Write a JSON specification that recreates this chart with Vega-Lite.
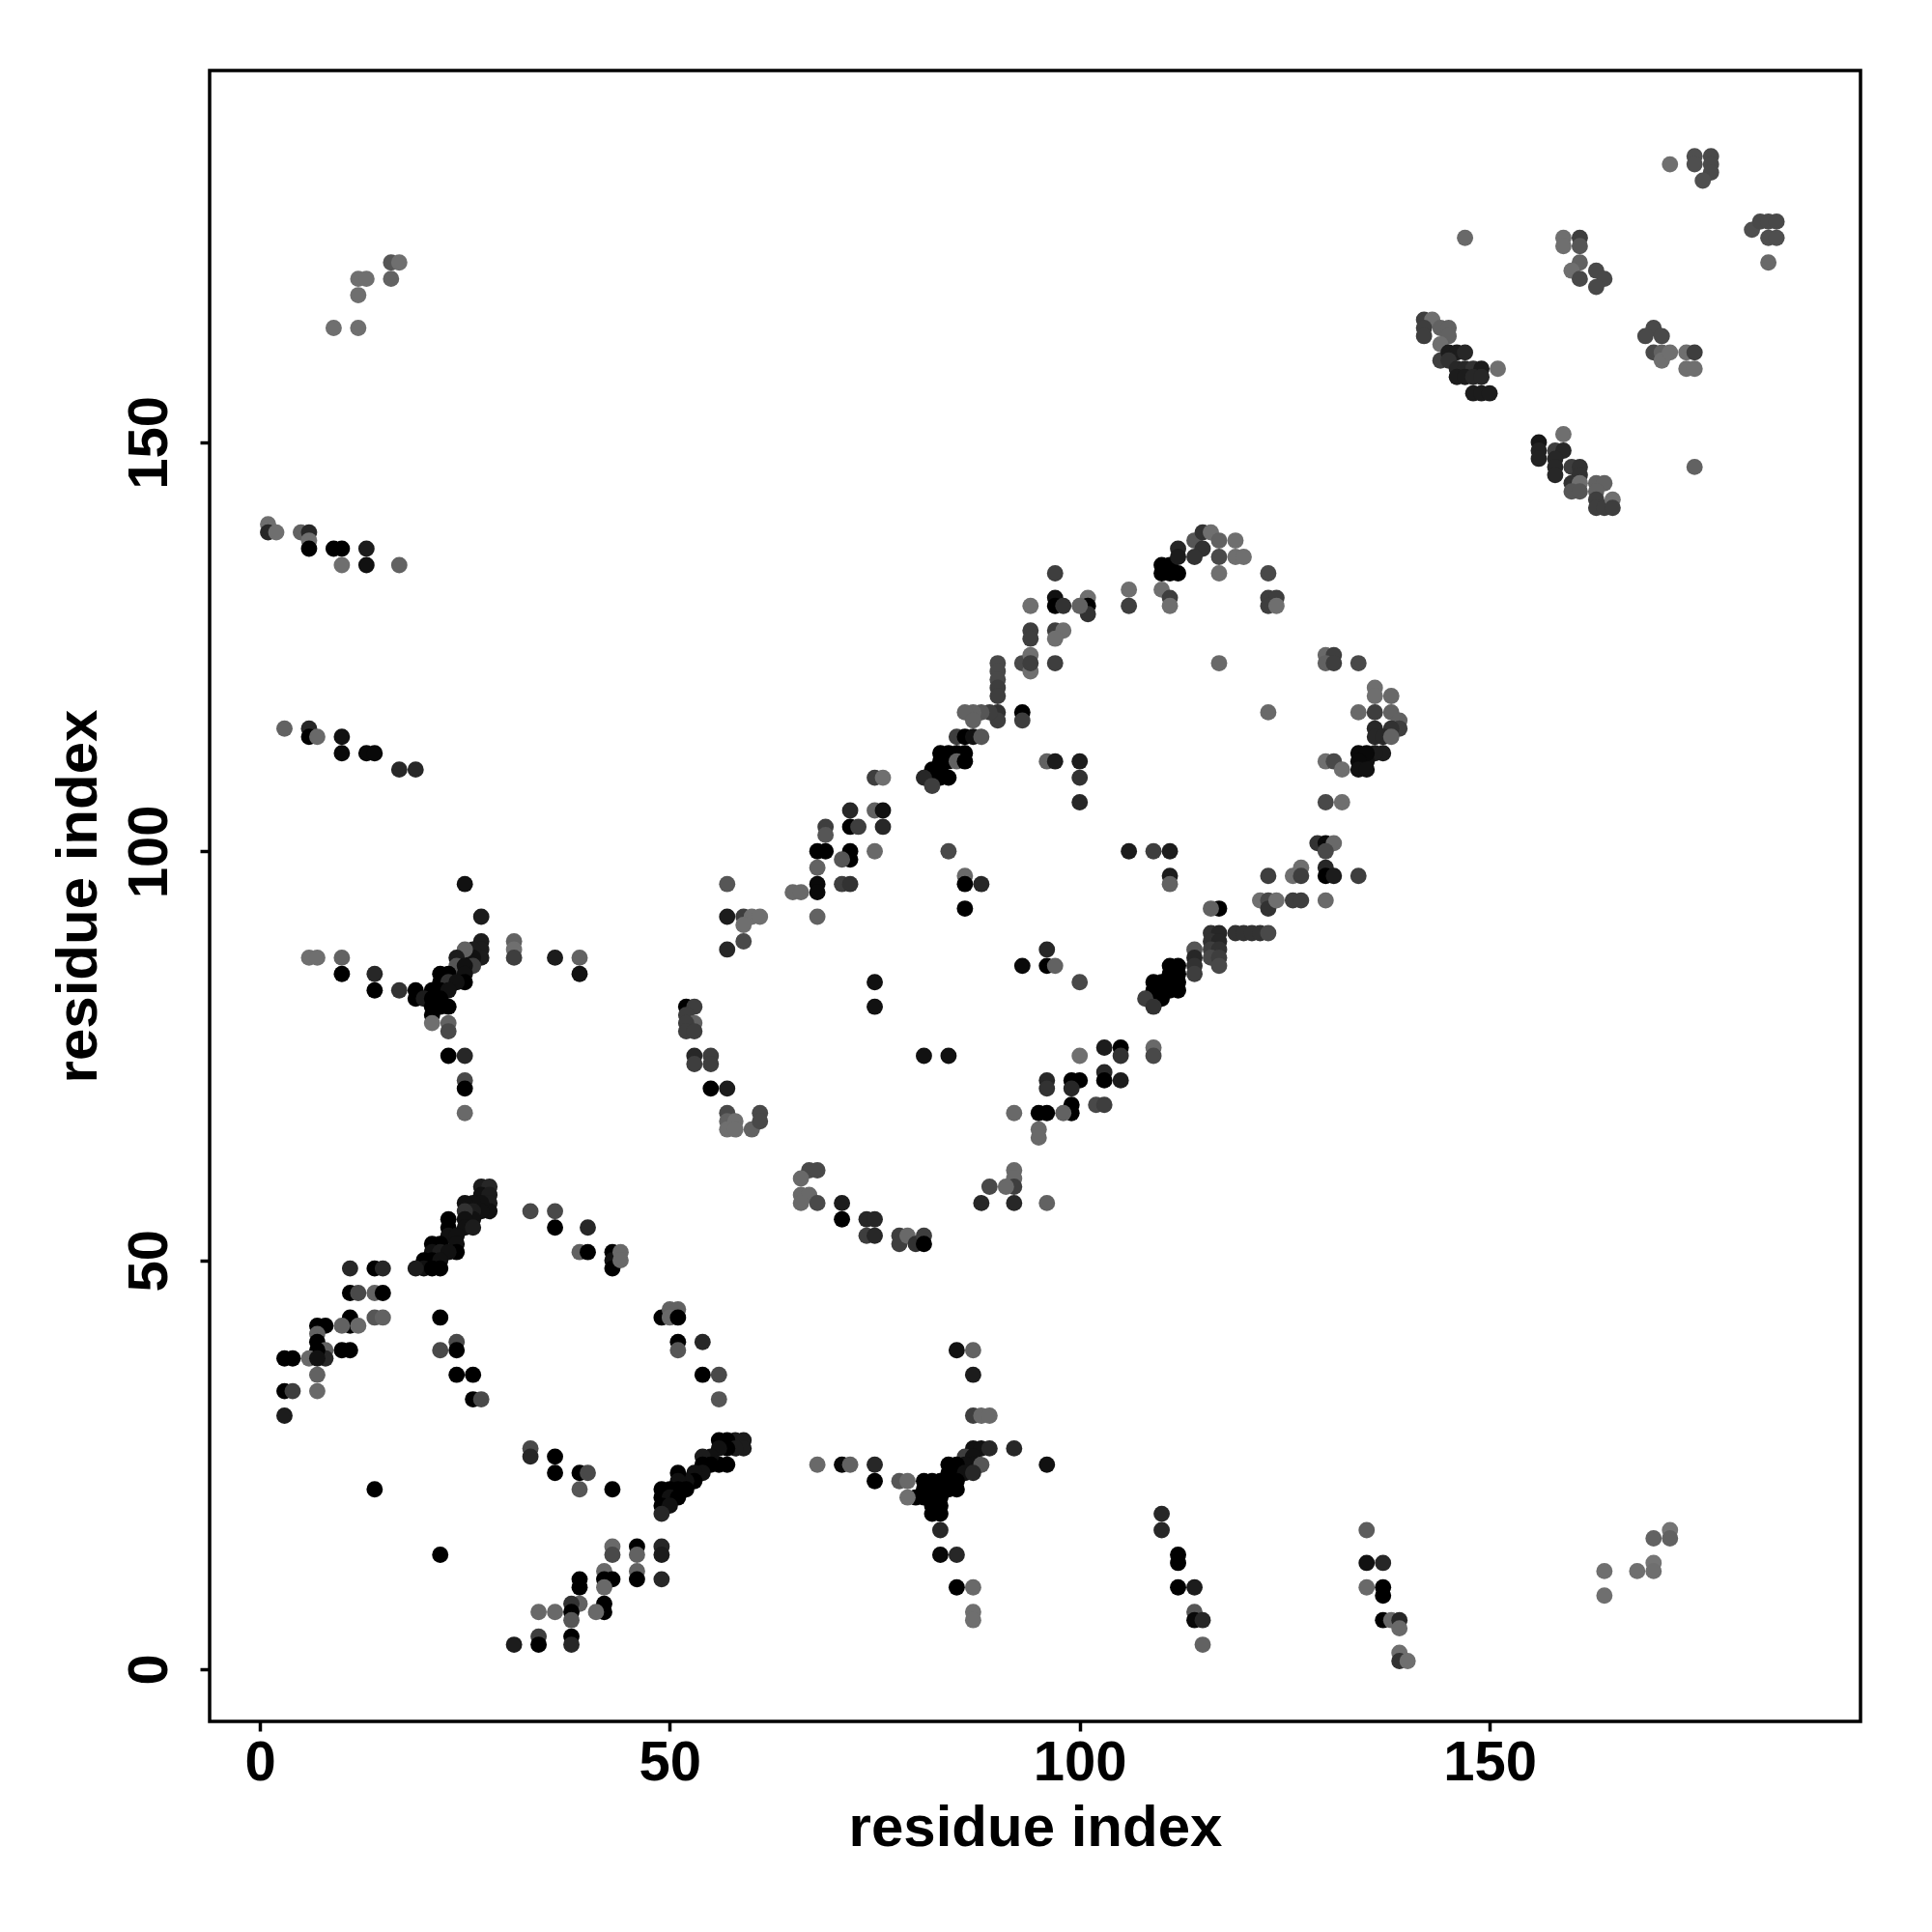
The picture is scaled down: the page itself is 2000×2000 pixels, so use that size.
{
"$schema": "https://vega.github.io/schema/vega-lite/v6.json",
"width": 1709, "height": 1709,
"autosize": {"type": "none"},
"padding": {"left": 217, "top": 73, "right": 74, "bottom": 218},
"background": "white",
"config": {"view": {"stroke": "black", "strokeWidth": 3.5}, "font": "Liberation Sans"},
"data": {"values": [
{"x":16,"y":172,"p":0.3},{"x":17,"y":172,"p":0.1},{"x":16,"y":170,"p":0.2},{"x":12,"y":170,"p":0.1},{"x":13,"y":170,"p":0.1},{"x":12,"y":168,"p":0.1},{"x":9,"y":164,"p":0.1},{"x":12,"y":164,"p":0.1},
{"x":1,"y":140,"p":0.1},{"x":1,"y":139,"p":0.7},{"x":2,"y":139,"p":0.1},{"x":5,"y":139,"p":0.2},{"x":6,"y":139,"p":0.7},{"x":6,"y":138,"p":0.1},{"x":6,"y":137,"p":1},{"x":9,"y":137,"p":1},{"x":10,"y":137,"p":1},{"x":10,"y":135,"p":0.1},{"x":13,"y":137,"p":0.8},{"x":13,"y":135,"p":0.9},{"x":17,"y":135,"p":0.2},
{"x":97,"y":134,"p":0.5},{"x":94,"y":130,"p":0.1},{"x":97,"y":131,"p":0.9},{"x":97,"y":130,"p":1},{"x":98,"y":130,"p":0.6},{"x":101,"y":131,"p":0.1},{"x":101,"y":130,"p":1},{"x":101,"y":129,"p":0.6},{"x":100,"y":130,"p":0.2},{"x":94,"y":127,"p":0.5},{"x":94,"y":126,"p":0.5},{"x":97,"y":127,"p":0.5},{"x":98,"y":127,"p":0.1},{"x":97,"y":126,"p":0.1},{"x":106,"y":132,"p":0.1},{"x":106,"y":130,"p":0.5},{"x":110,"y":132,"p":0.1},{"x":111,"y":131,"p":0.5},{"x":111,"y":130,"p":0.1},{"x":110,"y":135,"p":1},{"x":111,"y":135,"p":1},{"x":110,"y":134,"p":1},{"x":111,"y":134,"p":1},{"x":112,"y":134,"p":1},{"x":112,"y":137,"p":0.7},{"x":112,"y":136,"p":0.8},{"x":114,"y":138,"p":0.3},{"x":115,"y":139,"p":0.6},{"x":116,"y":139,"p":0.1},{"x":115,"y":137,"p":0.6},{"x":114,"y":136,"p":0.6},{"x":117,"y":138,"p":0.2},{"x":117,"y":136,"p":0.4},{"x":119,"y":138,"p":0.1},{"x":119,"y":136,"p":0.1},{"x":120,"y":136,"p":0.1},{"x":117,"y":134,"p":0.1},{"x":123,"y":134,"p":0.4},{"x":123,"y":131,"p":0.5},{"x":124,"y":131,"p":0.5},{"x":123,"y":130,"p":0.5},{"x":124,"y":130,"p":0.1},
{"x":172,"y":184,"p":0.1},{"x":175,"y":185,"p":0.35},{"x":175,"y":184,"p":0.35},{"x":177,"y":185,"p":0.4},{"x":177,"y":184,"p":0.4},{"x":177,"y":183,"p":0.4},{"x":176,"y":182,"p":0.35},{"x":182,"y":176,"p":0.35},{"x":183,"y":177,"p":0.4},{"x":184,"y":177,"p":0.4},{"x":185,"y":177,"p":0.4},{"x":184,"y":175,"p":0.35},{"x":185,"y":175,"p":0.35},{"x":184,"y":172,"p":0.15},{"x":147,"y":175,"p":0.15},{"x":159,"y":175,"p":0.1},{"x":159,"y":174,"p":0.1},{"x":161,"y":175,"p":0.5},{"x":161,"y":174,"p":0.3},{"x":161,"y":172,"p":0.2},{"x":160,"y":171,"p":0.1},{"x":161,"y":170,"p":0.4},{"x":163,"y":171,"p":0.4},{"x":164,"y":170,"p":0.4},{"x":163,"y":169,"p":0.4},{"x":170,"y":164,"p":0.4},{"x":169,"y":163,"p":0.4},{"x":171,"y":163,"p":0.4},{"x":170,"y":161,"p":0.4},{"x":171,"y":161,"p":0.2},{"x":171,"y":160,"p":0.1},{"x":172,"y":161,"p":0.1},{"x":174,"y":161,"p":0.1},{"x":175,"y":161,"p":0.5},{"x":174,"y":159,"p":0.1},{"x":175,"y":159,"p":0.1},{"x":175,"y":147,"p":0.2},
{"x":142,"y":165,"p":0.5},{"x":143,"y":165,"p":0.1},{"x":142,"y":164,"p":0.5},{"x":142,"y":163,"p":0.5},{"x":144,"y":164,"p":0.2},{"x":145,"y":164,"p":0.2},{"x":145,"y":163,"p":0.2},{"x":144,"y":162,"p":0.1},{"x":144,"y":160,"p":0.5},{"x":145,"y":161,"p":0.8},{"x":146,"y":161,"p":0.8},{"x":147,"y":161,"p":0.7},{"x":145,"y":160,"p":0.6},{"x":146,"y":159,"p":0.7},{"x":147,"y":159,"p":0.7},{"x":148,"y":159,"p":0.6},{"x":149,"y":159,"p":0.8},{"x":146,"y":158,"p":0.8},{"x":147,"y":158,"p":0.8},{"x":148,"y":158,"p":0.7},{"x":149,"y":158,"p":0.7},{"x":148,"y":156,"p":0.8},{"x":149,"y":156,"p":0.8},{"x":150,"y":156,"p":0.8},{"x":151,"y":159,"p":0.1},
{"x":159,"y":151,"p":0.1},{"x":156,"y":150,"p":0.85},{"x":156,"y":149,"p":0.75},{"x":156,"y":148,"p":0.75},{"x":158,"y":149,"p":0.5},{"x":159,"y":149,"p":0.7},{"x":158,"y":148,"p":0.7},{"x":158,"y":147,"p":0.7},{"x":158,"y":146,"p":0.7},{"x":160,"y":147,"p":0.5},{"x":161,"y":147,"p":0.6},{"x":161,"y":146,"p":0.6},{"x":160,"y":145,"p":0.6},{"x":161,"y":145,"p":0.1},{"x":160,"y":144,"p":0.3},{"x":161,"y":144,"p":0.3},{"x":163,"y":145,"p":0.2},{"x":164,"y":145,"p":0.2},{"x":163,"y":144,"p":0.2},{"x":163,"y":143,"p":0.5},{"x":163,"y":142,"p":0.5},{"x":164,"y":142,"p":0.5},{"x":165,"y":143,"p":0.1},{"x":165,"y":142,"p":0.5},
{"x":3,"y":115,"p":0.2},{"x":6,"y":115,"p":0.7},{"x":6,"y":114,"p":1},{"x":7,"y":114,"p":0.15},{"x":10,"y":114,"p":0.9},{"x":10,"y":112,"p":0.95},{"x":13,"y":112,"p":0.95},{"x":14,"y":112,"p":0.95},{"x":17,"y":110,"p":0.7},{"x":19,"y":110,"p":0.7},
{"x":25,"y":96,"p":0.9},{"x":27,"y":92,"p":0.8},{"x":27,"y":89,"p":0.8},{"x":27,"y":88,"p":0.8},{"x":27,"y":87,"p":0.8},{"x":26,"y":88,"p":0.8},{"x":26,"y":87,"p":0.9},{"x":25,"y":88,"p":0.2},{"x":26,"y":86,"p":0.5},{"x":24,"y":87,"p":0.8},{"x":24,"y":86,"p":0.3},{"x":25,"y":86,"p":0.9},{"x":25,"y":85,"p":0.9},{"x":25,"y":84,"p":1},{"x":22,"y":85,"p":1},{"x":23,"y":85,"p":1},{"x":22,"y":84,"p":1},{"x":23,"y":84,"p":0.6},{"x":24,"y":84,"p":0.9},{"x":21,"y":83,"p":1},{"x":22,"y":83,"p":1},{"x":23,"y":83,"p":0.9},{"x":19,"y":83,"p":1},{"x":19,"y":82,"p":1},{"x":20,"y":82,"p":0.8},{"x":21,"y":82,"p":1},{"x":22,"y":82,"p":1},{"x":23,"y":81,"p":1},{"x":21,"y":81,"p":1},{"x":22,"y":81,"p":1},{"x":21,"y":80,"p":1},{"x":21,"y":79,"p":0.1},{"x":23,"y":79,"p":0.2},{"x":23,"y":78,"p":0.4},{"x":23,"y":75,"p":1},{"x":25,"y":75,"p":0.7},{"x":25,"y":72,"p":0.4},{"x":25,"y":71,"p":1},{"x":25,"y":68,"p":0.15},{"x":17,"y":83,"p":0.6},{"x":14,"y":85,"p":0.7},{"x":14,"y":83,"p":1},{"x":10,"y":85,"p":1},{"x":10,"y":87,"p":0.2},{"x":6,"y":87,"p":0.1},{"x":7,"y":87,"p":0.1},{"x":31,"y":89,"p":0.2},{"x":31,"y":88,"p":0.1},{"x":31,"y":87,"p":0.5},{"x":36,"y":87,"p":0.8},{"x":39,"y":87,"p":0.2},{"x":39,"y":85,"p":0.9},
{"x":57,"y":96,"p":0.3},{"x":57,"y":92,"p":0.8},{"x":59,"y":92,"p":0.5},{"x":60,"y":92,"p":0.1},{"x":61,"y":92,"p":0.1},{"x":59,"y":91,"p":0.1},{"x":59,"y":89,"p":0.4},{"x":57,"y":88,"p":0.7},{"x":52,"y":81,"p":1},{"x":53,"y":81,"p":0.5},{"x":52,"y":80,"p":0.5},{"x":53,"y":79,"p":0.2},{"x":52,"y":79,"p":0.5},{"x":52,"y":78,"p":0.5},{"x":53,"y":78,"p":0.5},{"x":53,"y":75,"p":0.7},{"x":53,"y":74,"p":0.5},{"x":55,"y":75,"p":0.5},{"x":55,"y":74,"p":0.5},{"x":55,"y":71,"p":1},{"x":57,"y":71,"p":0.8},{"x":57,"y":68,"p":0.4},{"x":57,"y":67,"p":0.2},{"x":57,"y":66,"p":0.1},{"x":58,"y":67,"p":0.1},{"x":58,"y":66,"p":0.1},{"x":60,"y":66,"p":0.2},{"x":61,"y":68,"p":0.4},{"x":61,"y":67,"p":0.4},
{"x":90,"y":123,"p":0.4},{"x":90,"y":122,"p":0.4},{"x":90,"y":121,"p":0.4},{"x":90,"y":120,"p":0.5},{"x":90,"y":119,"p":0.5},{"x":90,"y":117,"p":0.6},{"x":90,"y":116,"p":0.5},{"x":89,"y":117,"p":0.5},{"x":88,"y":117,"p":0.3},{"x":87,"y":117,"p":0.2},{"x":86,"y":117,"p":0.2},{"x":87,"y":116,"p":0.2},{"x":93,"y":117,"p":1},{"x":93,"y":116,"p":0.5},{"x":93,"y":123,"p":0.4},{"x":94,"y":124,"p":0.1},{"x":94,"y":122,"p":0.1},{"x":94,"y":123,"p":0.5},{"x":97,"y":123,"p":0.5},{"x":85,"y":114,"p":0.5},{"x":86,"y":114,"p":1},{"x":87,"y":114,"p":0.9},{"x":88,"y":114,"p":0.3},{"x":83,"y":112,"p":1},{"x":84,"y":112,"p":1},{"x":85,"y":112,"p":1},{"x":86,"y":112,"p":1},{"x":83,"y":111,"p":1},{"x":84,"y":111,"p":1},{"x":85,"y":111,"p":0.2},{"x":86,"y":111,"p":1},{"x":82,"y":110,"p":1},{"x":83,"y":110,"p":1},{"x":82,"y":109,"p":1},{"x":83,"y":109,"p":1},{"x":84,"y":109,"p":1},{"x":81,"y":109,"p":0.7},{"x":82,"y":108,"p":0.5},{"x":75,"y":109,"p":0.5},{"x":76,"y":109,"p":0.1},{"x":72,"y":105,"p":0.7},{"x":72,"y":103,"p":1},{"x":73,"y":103,"p":0.5},{"x":75,"y":105,"p":0.2},{"x":76,"y":105,"p":0.9},{"x":76,"y":103,"p":0.7},{"x":69,"y":103,"p":0.5},{"x":69,"y":102,"p":0.3},{"x":68,"y":100,"p":1},{"x":69,"y":100,"p":1},{"x":72,"y":100,"p":1},{"x":72,"y":99,"p":1},{"x":71,"y":99,"p":0.3},{"x":75,"y":100,"p":0.15},{"x":68,"y":98,"p":0.2},{"x":68,"y":96,"p":0.95},{"x":68,"y":95,"p":0.95},{"x":71,"y":96,"p":0.5},{"x":72,"y":96,"p":0.6},{"x":65,"y":95,"p":0.15},{"x":66,"y":95,"p":0.15},{"x":68,"y":92,"p":0.2},{"x":84,"y":100,"p":0.4},{"x":86,"y":97,"p":0.15},{"x":86,"y":96,"p":1},{"x":88,"y":96,"p":0.7},{"x":86,"y":93,"p":1},{"x":96,"y":111,"p":0.2},{"x":97,"y":111,"p":0.8},{"x":100,"y":111,"p":0.8},{"x":100,"y":109,"p":0.6},{"x":100,"y":106,"p":0.7},{"x":117,"y":123,"p":0.15},{"x":123,"y":117,"p":0.15},{"x":106,"y":100,"p":0.8},{"x":109,"y":100,"p":0.5},{"x":111,"y":100,"p":0.8},{"x":111,"y":97,"p":0.8},{"x":111,"y":96,"p":0.2},{"x":96,"y":88,"p":0.7},{"x":93,"y":86,"p":0.95},{"x":96,"y":86,"p":1},{"x":97,"y":86,"p":0.2},{"x":100,"y":84,"p":0.4},{"x":75,"y":84,"p":0.9},{"x":75,"y":81,"p":0.9},{"x":81,"y":75,"p":0.9},{"x":84,"y":75,"p":0.9},{"x":100,"y":75,"p":0.1},{"x":103,"y":76,"p":0.8},{"x":105,"y":76,"p":1},{"x":105,"y":75,"p":0.6},{"x":109,"y":76,"p":0.15},{"x":109,"y":75,"p":0.4},{"x":96,"y":72,"p":0.7},{"x":96,"y":71,"p":0.6},{"x":99,"y":72,"p":1},{"x":100,"y":72,"p":1},{"x":99,"y":71,"p":0.7},{"x":103,"y":73,"p":0.7},{"x":103,"y":72,"p":1},{"x":105,"y":72,"p":0.8},{"x":102,"y":69,"p":0.4},{"x":103,"y":69,"p":0.5},{"x":99,"y":69,"p":1},{"x":99,"y":68,"p":1},{"x":98,"y":68,"p":0.2},{"x":95,"y":68,"p":1},{"x":96,"y":68,"p":1},{"x":92,"y":68,"p":0.15},{"x":95,"y":66,"p":0.15},{"x":95,"y":65,"p":0.15},
{"x":117,"y":93,"p":1},{"x":116,"y":93,"p":0.2},{"x":116,"y":90,"p":0.6},{"x":117,"y":90,"p":0.7},{"x":119,"y":90,"p":0.6},{"x":120,"y":90,"p":0.6},{"x":121,"y":90,"p":0.6},{"x":122,"y":90,"p":0.6},{"x":123,"y":90,"p":0.4},{"x":116,"y":89,"p":0.6},{"x":117,"y":89,"p":0.7},{"x":116,"y":88,"p":0.5},{"x":117,"y":88,"p":0.6},{"x":116,"y":87,"p":0.4},{"x":117,"y":87,"p":0.5},{"x":117,"y":86,"p":0.4},{"x":114,"y":88,"p":0.3},{"x":114,"y":87,"p":0.7},{"x":114,"y":86,"p":0.6},{"x":114,"y":85,"p":0.5},{"x":111,"y":86,"p":1},{"x":112,"y":86,"p":1},{"x":111,"y":85,"p":1},{"x":112,"y":85,"p":1},{"x":111,"y":84,"p":1},{"x":112,"y":84,"p":1},{"x":112,"y":83,"p":1},{"x":111,"y":83,"p":1},{"x":109,"y":84,"p":1},{"x":110,"y":84,"p":1},{"x":109,"y":83,"p":1},{"x":110,"y":83,"p":1},{"x":109,"y":82,"p":1},{"x":110,"y":82,"p":1},{"x":108,"y":82,"p":0.5},{"x":109,"y":81,"p":0.6},
{"x":123,"y":97,"p":0.5},{"x":126,"y":97,"p":0.1},{"x":127,"y":98,"p":0.1},{"x":127,"y":97,"p":0.5},{"x":129,"y":101,"p":0.6},{"x":122,"y":94,"p":0.1},{"x":123,"y":94,"p":0.4},{"x":123,"y":93,"p":0.6},{"x":124,"y":94,"p":0.1},{"x":126,"y":94,"p":0.5},{"x":127,"y":94,"p":0.5},{"x":130,"y":94,"p":0.15},
{"x":67,"y":61,"p":0.4},{"x":68,"y":61,"p":0.4},{"x":66,"y":60,"p":0.15},{"x":92,"y":61,"p":0.15},{"x":92,"y":60,"p":0.15},
{"x":130,"y":124,"p":0.15},{"x":131,"y":124,"p":0.5},{"x":130,"y":123,"p":0.2},{"x":131,"y":123,"p":0.5},{"x":134,"y":123,"p":0.4},{"x":136,"y":120,"p":0.1},{"x":136,"y":119,"p":0.1},{"x":138,"y":119,"p":0.15},{"x":134,"y":117,"p":0.15},{"x":136,"y":117,"p":0.5},{"x":138,"y":117,"p":0.2},{"x":139,"y":116,"p":0.2},{"x":139,"y":115,"p":0.5},{"x":138,"y":115,"p":0.6},{"x":136,"y":115,"p":0.7},{"x":136,"y":114,"p":0.7},{"x":137,"y":114,"p":0.7},{"x":138,"y":114,"p":0.2},{"x":137,"y":112,"p":0.8},{"x":136,"y":112,"p":0.8},{"x":135,"y":111,"p":0.9},{"x":134,"y":112,"p":0.95},{"x":135,"y":112,"p":0.95},{"x":134,"y":111,"p":0.95},{"x":134,"y":110,"p":0.9},{"x":135,"y":110,"p":0.9},{"x":130,"y":111,"p":0.1},{"x":131,"y":111,"p":0.4},{"x":132,"y":110,"p":0.1},{"x":130,"y":106,"p":0.4},{"x":132,"y":106,"p":0.1},{"x":130,"y":101,"p":0.95},{"x":131,"y":101,"p":0.15},{"x":130,"y":100,"p":0.4},{"x":130,"y":98,"p":0.7},{"x":130,"y":97,"p":1},{"x":131,"y":97,"p":0.8},{"x":134,"y":97,"p":0.5},
{"x":27,"y":59,"p":0.8},{"x":28,"y":59,"p":0.7},{"x":27,"y":58,"p":0.9},{"x":28,"y":58,"p":0.8},{"x":28,"y":57,"p":0.8},{"x":28,"y":56,"p":0.9},{"x":27,"y":57,"p":0.9},{"x":27,"y":56,"p":0.9},{"x":26,"y":57,"p":0.9},{"x":25,"y":57,"p":0.9},{"x":26,"y":56,"p":0.8},{"x":26,"y":55,"p":0.9},{"x":25,"y":56,"p":0.6},{"x":25,"y":55,"p":0.9},{"x":25,"y":54,"p":0.9},{"x":26,"y":54,"p":0.8},{"x":23,"y":55,"p":1},{"x":23,"y":54,"p":1},{"x":23,"y":53,"p":0.9},{"x":24,"y":53,"p":0.9},{"x":24,"y":52,"p":0.9},{"x":24,"y":51,"p":1},{"x":21,"y":52,"p":1},{"x":22,"y":52,"p":1},{"x":21,"y":51,"p":0.9},{"x":22,"y":51,"p":0.8},{"x":23,"y":51,"p":0.9},{"x":20,"y":50,"p":1},{"x":21,"y":50,"p":1},{"x":22,"y":50,"p":0.9},{"x":20,"y":49,"p":0.9},{"x":21,"y":49,"p":1},{"x":22,"y":49,"p":1},{"x":19,"y":49,"p":0.8},
{"x":11,"y":49,"p":0.7},{"x":14,"y":49,"p":1},{"x":15,"y":49,"p":0.7},{"x":11,"y":46,"p":1},{"x":12,"y":46,"p":0.4},{"x":14,"y":46,"p":0.2},{"x":15,"y":46,"p":1},{"x":14,"y":43,"p":0.3},{"x":15,"y":43,"p":0.2},{"x":11,"y":43,"p":1},{"x":11,"y":42,"p":1},{"x":12,"y":42,"p":0.15},{"x":10,"y":42,"p":0.2},{"x":7,"y":42,"p":1},{"x":8,"y":42,"p":1},{"x":7,"y":41,"p":0.2},{"x":7,"y":40,"p":1},{"x":8,"y":39,"p":0.2},{"x":8,"y":38,"p":0.7},{"x":10,"y":39,"p":1},{"x":11,"y":39,"p":1},{"x":7,"y":39,"p":1},{"x":6,"y":38,"p":0.15},{"x":7,"y":38,"p":0.9},{"x":3,"y":38,"p":1},{"x":4,"y":38,"p":1},{"x":7,"y":36,"p":0.2},{"x":3,"y":34,"p":1},{"x":4,"y":34,"p":0.5},{"x":7,"y":34,"p":0.15},{"x":3,"y":31,"p":0.8},
{"x":22,"y":43,"p":1},{"x":22,"y":39,"p":0.4},{"x":24,"y":40,"p":0.4},{"x":24,"y":39,"p":1},{"x":24,"y":36,"p":1},{"x":26,"y":36,"p":1},{"x":26,"y":33,"p":1},{"x":27,"y":33,"p":0.4},
{"x":33,"y":56,"p":0.4},{"x":36,"y":56,"p":0.4},{"x":36,"y":54,"p":1},{"x":40,"y":54,"p":0.7},{"x":39,"y":51,"p":0.2},{"x":40,"y":51,"p":1},{"x":43,"y":51,"p":1},{"x":43,"y":50,"p":0.9},{"x":43,"y":49,"p":1},{"x":44,"y":51,"p":0.15},{"x":44,"y":50,"p":0.15},{"x":49,"y":43,"p":1},{"x":50,"y":44,"p":0.2},{"x":51,"y":44,"p":0.2},{"x":50,"y":43,"p":0.15},{"x":51,"y":43,"p":1},{"x":51,"y":40,"p":1},{"x":51,"y":39,"p":0.3},{"x":54,"y":40,"p":0.7},{"x":54,"y":36,"p":1},{"x":56,"y":36,"p":0.4},{"x":56,"y":33,"p":0.3},
{"x":33,"y":27,"p":0.4},{"x":33,"y":26,"p":0.7},{"x":36,"y":26,"p":1},{"x":36,"y":24,"p":1},{"x":39,"y":24,"p":1},{"x":40,"y":24,"p":0.4},{"x":39,"y":22,"p":0.3},{"x":43,"y":22,"p":1},{"x":14,"y":22,"p":1},{"x":22,"y":14,"p":1},
{"x":59,"y":28,"p":0.8},{"x":58,"y":28,"p":0.8},{"x":57,"y":28,"p":1},{"x":56,"y":28,"p":1},{"x":59,"y":27,"p":0.8},{"x":58,"y":27,"p":0.8},{"x":57,"y":27,"p":1},{"x":56,"y":27,"p":0.9},{"x":57,"y":25,"p":1},{"x":56,"y":25,"p":1},{"x":55,"y":26,"p":0.9},{"x":54,"y":26,"p":0.8},{"x":54,"y":25,"p":1},{"x":55,"y":25,"p":1},{"x":54,"y":24,"p":0.9},{"x":53,"y":24,"p":0.9},{"x":53,"y":23,"p":1},{"x":52,"y":23,"p":0.9},{"x":51,"y":24,"p":1},{"x":51,"y":23,"p":0.9},{"x":51,"y":22,"p":1},{"x":52,"y":22,"p":1},{"x":50,"y":22,"p":1},{"x":49,"y":22,"p":1},{"x":49,"y":21,"p":1},{"x":50,"y":21,"p":0.9},{"x":51,"y":21,"p":1},{"x":49,"y":20,"p":1},{"x":50,"y":20,"p":0.9},{"x":49,"y":19,"p":0.7},
{"x":43,"y":15,"p":0.15},{"x":43,"y":14,"p":0.4},{"x":46,"y":15,"p":1},{"x":46,"y":14,"p":0.2},{"x":49,"y":15,"p":0.7},{"x":49,"y":14,"p":0.8},{"x":46,"y":12,"p":0.2},{"x":46,"y":11,"p":1},{"x":49,"y":11,"p":0.7},{"x":39,"y":11,"p":1},{"x":39,"y":10,"p":1},{"x":42,"y":12,"p":0.15},{"x":42,"y":11,"p":1},{"x":43,"y":11,"p":1},{"x":42,"y":10,"p":0.15},{"x":42,"y":8,"p":1},{"x":42,"y":7,"p":1},{"x":41,"y":7,"p":0.15},{"x":39,"y":8,"p":0.2},{"x":38,"y":8,"p":0.6},{"x":38,"y":7,"p":1},{"x":38,"y":6,"p":0.3},{"x":36,"y":7,"p":0.15},{"x":34,"y":7,"p":0.15},{"x":34,"y":4,"p":0.5},{"x":34,"y":3,"p":1},{"x":31,"y":3,"p":0.8},{"x":38,"y":4,"p":1},{"x":38,"y":3,"p":0.7},
{"x":66,"y":58,"p":0.15},{"x":67,"y":58,"p":0.15},{"x":66,"y":57,"p":0.15},{"x":68,"y":57,"p":0.4},{"x":71,"y":57,"p":0.8},{"x":71,"y":55,"p":1},{"x":74,"y":55,"p":0.7},{"x":75,"y":55,"p":0.7},{"x":74,"y":53,"p":0.5},{"x":75,"y":53,"p":0.7},{"x":78,"y":53,"p":0.5},{"x":78,"y":52,"p":0.5},{"x":79,"y":53,"p":0.15},{"x":80,"y":52,"p":0.6},{"x":81,"y":53,"p":0.5},{"x":81,"y":52,"p":1},{"x":92,"y":59,"p":0.5},{"x":91,"y":59,"p":0.15},{"x":89,"y":59,"p":0.4},{"x":88,"y":57,"p":0.7},{"x":92,"y":57,"p":0.7},{"x":96,"y":57,"p":0.2},
{"x":85,"y":39,"p":0.9},{"x":87,"y":39,"p":0.2},{"x":87,"y":36,"p":0.8},{"x":87,"y":31,"p":0.5},{"x":88,"y":31,"p":0.15},{"x":89,"y":31,"p":0.15},{"x":87,"y":27,"p":0.9},{"x":88,"y":27,"p":0.9},{"x":89,"y":27,"p":0.7},{"x":92,"y":27,"p":0.7},{"x":96,"y":25,"p":0.9},{"x":86,"y":26,"p":0.5},{"x":87,"y":26,"p":0.9},{"x":87,"y":25,"p":0.9},{"x":88,"y":25,"p":0.3},{"x":86,"y":25,"p":0.9},{"x":85,"y":25,"p":1},{"x":84,"y":25,"p":1},{"x":84,"y":24,"p":1},{"x":85,"y":24,"p":1},{"x":86,"y":24,"p":0.9},{"x":87,"y":24,"p":0.7},{"x":83,"y":23,"p":1},{"x":84,"y":23,"p":1},{"x":85,"y":23,"p":1},{"x":82,"y":23,"p":1},{"x":81,"y":23,"p":1},{"x":85,"y":22,"p":1},{"x":84,"y":22,"p":1},{"x":83,"y":22,"p":1},{"x":82,"y":22,"p":1},{"x":81,"y":22,"p":1},{"x":80,"y":21,"p":1},{"x":81,"y":21,"p":1},{"x":82,"y":21,"p":1},{"x":83,"y":21,"p":1},{"x":82,"y":20,"p":1},{"x":83,"y":20,"p":1},{"x":82,"y":19,"p":1},{"x":83,"y":19,"p":1},{"x":83,"y":17,"p":0.7},{"x":83,"y":14,"p":0.95},{"x":85,"y":14,"p":0.7},{"x":85,"y":10,"p":1},{"x":87,"y":10,"p":0.15},{"x":87,"y":7,"p":0.1},{"x":87,"y":6,"p":0.1},{"x":78,"y":23,"p":0.3},{"x":79,"y":23,"p":0.15},{"x":79,"y":21,"p":0.1},{"x":75,"y":25,"p":0.7},{"x":75,"y":23,"p":1},{"x":71,"y":25,"p":0.95},{"x":72,"y":25,"p":0.2},{"x":68,"y":25,"p":0.15},
{"x":110,"y":19,"p":0.7},{"x":110,"y":17,"p":0.7},{"x":112,"y":14,"p":1},{"x":112,"y":13,"p":1},{"x":112,"y":10,"p":1},{"x":114,"y":10,"p":0.8},{"x":114,"y":7,"p":0.3},{"x":114,"y":6,"p":0.95},{"x":115,"y":6,"p":0.7},{"x":115,"y":3,"p":0.2},
{"x":135,"y":17,"p":0.25},{"x":135,"y":13,"p":0.9},{"x":137,"y":13,"p":0.7},{"x":135,"y":10,"p":0.15},{"x":137,"y":10,"p":1},{"x":137,"y":9,"p":1},{"x":137,"y":6,"p":1},{"x":138,"y":6,"p":0.15},{"x":139,"y":6,"p":0.7},{"x":139,"y":5,"p":0.15},{"x":139,"y":2,"p":0.1},{"x":139,"y":1,"p":0.6},{"x":140,"y":1,"p":0.1},{"x":164,"y":12,"p":0.1},{"x":164,"y":9,"p":0.1},{"x":168,"y":12,"p":0.1},{"x":170,"y":13,"p":0.05},{"x":170,"y":12,"p":0.1},{"x":170,"y":16,"p":0.2},{"x":172,"y":17,"p":0.05},{"x":172,"y":16,"p":0.2}
]},
"mark": {"type": "circle", "size": 285, "opacity": 1},
"encoding": {
  "x": {"field": "x", "type": "quantitative",
        "scale": {"domain": [-6.13, 195.24], "nice": false, "zero": false},
        "axis": {"values": [0, 50, 100, 150], "grid": false, "domain": false, "ticks": true, "tickSize": 10, "tickWidth": 3.5, "tickColor": "black",
                 "labelFont": "Liberation Sans", "labelFontWeight": "bold", "labelFontSize": 58, "labelColor": "black", "labelPadding": 50, "labelBaseline": "alphabetic", "labelAlign": "center", "labelFlush": false,
                 "title": "residue index", "titleFont": "Liberation Sans", "titleFontWeight": "bold", "titleFontSize": 60, "titleColor": "black", "titleBaseline": "alphabetic", "titleX": 854.5, "titleY": 128, "titleAlign": "center"}},
  "y": {"field": "y", "type": "quantitative",
        "scale": {"domain": [-6.38, 195.47], "nice": false, "zero": false},
        "axis": {"values": [0, 50, 100, 150], "grid": false, "domain": false, "ticks": true, "tickSize": 10, "tickWidth": 3.5, "tickColor": "black",
                 "labelFont": "Liberation Sans", "labelFontWeight": "bold", "labelFontSize": 58, "labelColor": "black", "labelPadding": 35, "labelAngle": -90, "labelBaseline": "alphabetic", "labelAlign": "center", "labelFlush": false,
                 "title": "residue index", "titleFont": "Liberation Sans", "titleFontWeight": "bold", "titleFontSize": 60, "titleColor": "black", "titleAngle": -90, "titleBaseline": "alphabetic", "titleX": -117.5, "titleY": 854.5, "titleAlign": "center"}},
  "color": {"field": "p", "type": "quantitative", "scale": {"domain": [0, 1], "range": ["#7c7c7c", "#000000"]}, "legend": null}
}
}
